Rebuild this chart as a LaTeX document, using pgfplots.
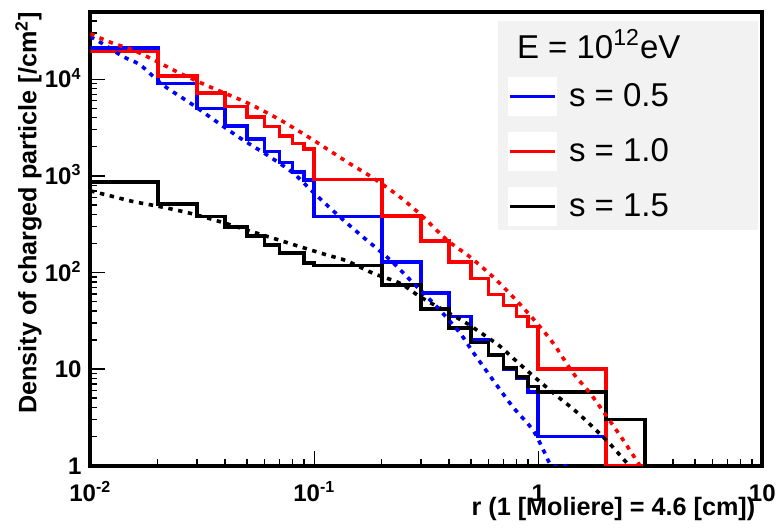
\documentclass[border=0pt]{standalone}
\usepackage{fontspec}
\setmainfont{Liberation Sans}
\usepackage{pgfplots}
\usepackage{pgfplotstable}
\pgfplotsset{compat=1.18}
\definecolor{legendgray}{RGB}{242,242,242}
\definecolor{rootblue}{RGB}{0,0,255}
\definecolor{rootred}{RGB}{255,0,0}

% histogram: left bin edge, content (empty bins drawn on the floor, 1)
\pgfplotstableread{
x     s05    s10    s15
0.01  21000  19300  870
0.02  9000   10800  512
0.03  5000   7250   378
0.04  3300   5200   294
0.05  2400   4050   239
0.06  1780   3230   193
0.07  1380   2590   158
0.08  1100   2170   158
0.09  900    1900   125
0.1   380    920    118
0.2   129    384    74
0.3   61     213    41.6
0.4   35     129    26.5
0.5   20     87     18.8
0.6   14     59     14
0.7   10     45.5   10.2
0.8   8      35     8.3
0.9   5.8    27.5   6.6
1     2      10     5.8
2     1      1      3
3     1      1      1
4     1      1      1
5     1      1      1
6     1      1      1
7     1      1      1
8     1      1      1
9     1      1      1
10    1      1      1
}\hist

% fitted curves
\pgfplotstableread{
x      y
0.01   27600
0.0116 22650
0.014  17150
0.0167 14060
0.0211 8730
0.0279 5680
0.0368 3610
0.0466 2467
0.0615 1645
0.0804 1072
0.0986 680
0.130  376
0.165  233
0.218  135
0.276  78
0.353  44
0.447  23.6
0.511  15
0.628  7.7
0.771  4.05
0.946  2.34
1.07   1.35
1.15   1
1.35   1
}\fitA

\pgfplotstableread{
x      y
0.01   29500
0.0126 23600
0.0155 20100
0.0199 15200
0.0252 11500
0.0353 8070
0.0501 5710
0.0703 3800
0.0987 2355
0.140  1394
0.183  951
0.241  605
0.306  376
0.391  217
0.495  145
0.628  90
0.771  56
0.95   33
1.164  18.6
1.43   9.1
1.70   5.66
2.03   3.19
2.39   1.85
2.79   1.07
2.85   1
}\fitB

\pgfplotstableread{
x      y
0.01   700
0.0127 609
0.0156 541
0.0205 480
0.0279 410
0.0379 336
0.0499 275
0.0656 226
0.0863 185
0.1136 152
0.1395 132
0.1833 98
0.2413 77.3
0.2965 56.1
0.377  40.9
0.479  29.8
0.531  25.4
0.608  20.5
0.675  17.2
0.801  12
0.984  7.9
1.208  5.3
1.483  3.6
1.823  2.3
2.09   1.68
2.44   1.12
2.55   1
}\fitC

\begin{document}
\begin{tikzpicture}
\begin{axis}[
  name=ax,
  width=336pt, height=227pt, scale only axis,
  xmode=log, ymode=log,
  xmin=0.01, xmax=10, ymin=1, ymax=5e4,
  axis line style={line width=2pt},
  tick align=inside, xtick pos=bottom, ytick pos=left,
  major tick length=7.5pt, minor tick length=3.5pt,
  every tick/.append style={black, line width=0.7pt},
  xtick={0.01,0.1,1,10},
  xticklabels={10\textsuperscript{-2},10\textsuperscript{-1},1,10},
  minor xtick={0.02,0.03,0.04,0.05,0.06,0.07,0.08,0.09,0.2,0.3,0.4,0.5,0.6,0.7,0.8,0.9,2,3,4,5,6,7,8,9},
  ytick={1,10,100,1000,10000},
  yticklabels={1,10,10\textsuperscript{2},10\textsuperscript{3},10\textsuperscript{4}},
  minor ytick={2,3,4,5,6,7,8,9,20,30,40,50,60,70,80,90,200,300,400,500,600,700,800,900,2000,3000,4000,5000,6000,7000,8000,9000,20000,30000,40000},
  tick label style={font=\fontsize{12}{14}\selectfont\bfseries},
  xticklabel style={anchor=base, inner sep=0pt, yshift=-17.7pt},
  yticklabel style={anchor=base east, inner sep=0pt, xshift=-4.2pt, yshift=-4.3pt},
  legend cell align=left,
  legend image code/.code={
    \fill[white] (0pt,-9pt) rectangle (22.5pt,9pt);
    \draw[#1] (0pt,0pt) -- (22.5pt,0pt);
  },
  legend style={at={(rel axis cs:0.6216,0.9619)}, anchor=north west,
    draw=none, fill=none, inner sep=0pt, row sep=7.75pt, column sep=6pt,
    nodes={inner sep=0pt},
    font=\fontsize{16.5}{19.8}\selectfont},
]
\addplot[rootblue, line width=1.8pt, const plot mark left, forget plot] table[x=x, y=s05] {\hist};
\addplot[rootred, line width=1.8pt, const plot mark left, forget plot] table[x=x, y=s10] {\hist};
\addplot[black, line width=1.8pt, const plot mark left, forget plot] table[x=x, y=s15] {\hist};

\addplot[rootblue, line width=1.8pt, dash pattern=on 2.2pt off 2.8pt, smooth, forget plot] table {\fitA};
\addplot[rootred, line width=1.8pt, dash pattern=on 2.2pt off 2.8pt, smooth, forget plot] table {\fitB};
\addplot[black, line width=1.8pt, dash pattern=on 2.2pt off 2.8pt, smooth, forget plot] table {\fitC};

\fill[legendgray] (rel axis cs:0.6067,0.9795) rectangle (rel axis cs:0.9936,0.5192);

\addlegendimage{empty legend}
\addlegendentry{\hspace*{-26pt}E = 10\textsuperscript{12}eV}
\addlegendimage{rootblue, line width=1.8pt}
\addlegendentry{s = 0.5}
\addlegendimage{rootred, line width=1.8pt}
\addlegendentry{s = 1.0}
\addlegendimage{black, line width=1.8pt}
\addlegendentry{s = 1.5}
\end{axis}

\node[rotate=90, anchor=base east, font=\fontsize{12.6}{15}\selectfont\bfseries]
  at ([xshift=-27pt, yshift=3.3pt]ax.north west) {Density of charged particle [/cm\textsuperscript{2}]};
\node[anchor=base east, font=\fontsize{12.6}{15}\selectfont\bfseries]
  at ([yshift=-24.65pt]ax.south east) {r (1 [Moliere] = 4.6 [cm])};

\pgfresetboundingbox
\path ([xshift=-45.15pt, yshift=-32.65pt]ax.south west) rectangle ([xshift=8.35pt, yshift=5.85pt]ax.north east);
\end{tikzpicture}
\end{document}
